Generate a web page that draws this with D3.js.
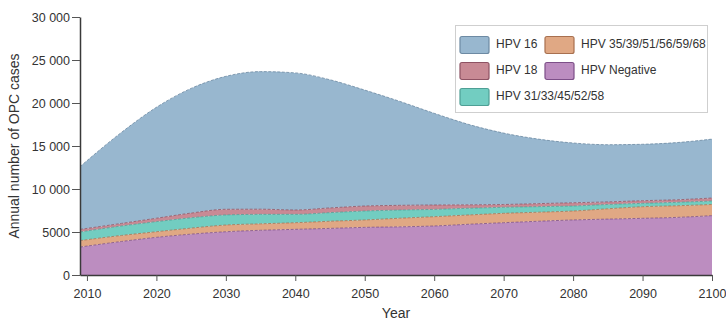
<!DOCTYPE html>
<html>
<head>
<meta charset="utf-8">
<script src="https://cdn.jsdelivr.net/npm/d3@7/dist/d3.min.js"></script>
<style>
  html, body { margin: 0; padding: 0; background: #fff; }
  svg { display: block; font-family: "Liberation Sans", Arial, sans-serif; }
</style>
</head>
<body>
<svg id="chart" width="726" height="323"></svg>
<script>
// Projected annual OPC cases by HPV type (stacked, bottom to top)
const years = [2009, 2015, 2020, 2025, 2030, 2035, 2040, 2045, 2050, 2055,
               2060, 2065, 2070, 2075, 2080, 2085, 2090, 2095, 2100];

const hpvNegative = [3250, 3900, 4380, 4750, 5030, 5200, 5310, 5420, 5540, 5600,
                     5700, 5900, 6080, 6250, 6400, 6500, 6590, 6700, 6900];
const hpv35group  = [750, 700, 650, 700, 780, 750, 770, 830, 860, 1000,
                     1080, 1080, 1090, 1050, 1040, 1200, 1350, 1350, 1300];
const hpv31group  = [1000, 1100, 1170, 1200, 1170, 1100, 970, 1000, 1040, 950,
                     850, 780, 700, 650, 580, 500, 390, 400, 400];
const hpv18       = [300, 300, 400, 550, 660, 600, 510, 550, 580, 550,
                     510, 400, 330, 350, 380, 300, 310, 300, 350];
const hpv16       = [7300, 10600, 12900, 14500, 15460, 16000, 15940, 14900, 13480, 12100,
                     10660, 9340, 8300, 7500, 6950, 6650, 6560, 6650, 6850];

const seriesKeys   = ["neg", "h35", "h31", "h18", "h16"];
const seriesLabels = {
  h16: "HPV 16",
  h18: "HPV 18",
  h31: "HPV 31/33/45/52/58",
  h35: "HPV 35/39/51/56/59/68",
  neg: "HPV Negative"
};
const fills   = { h16: "#98b7cf", h18: "#c88a95", h31: "#72cdc1", h35: "#e0a884", neg: "#bc8dc0" };
const strokes = { h16: "#6d8aa3", h18: "#8e5263", h31: "#4e9f95", h35: "#a8704f", neg: "#7d4f88" };

const legendOrder = ["h16", "h18", "h31", "h35", "neg"];

const yTicks = [0, 5000, 10000, 15000, 20000, 25000, 30000];
const xTicks = [2010, 2020, 2030, 2040, 2050, 2060, 2070, 2080, 2090, 2100];

const rows = years.map((yr, i) => ({
  year: yr,
  neg: hpvNegative[i],
  h35: hpv35group[i],
  h31: hpv31group[i],
  h18: hpv18[i],
  h16: hpv16[i]
}));

const svg = d3.select("#chart");
const margin = { top: 17, right: 14, bottom: 48, left: 80 };
const W = 726, H = 323;

const x = d3.scaleLinear().domain([2009, 2100]).range([margin.left, W - margin.right]);
const y = d3.scaleLinear().domain([0, 30000]).range([H - margin.bottom, margin.top]);

const stacked = d3.stack().keys(seriesKeys)(rows);

const area = d3.area()
  .curve(d3.curveMonotoneX)
  .x(d => x(d.data.year))
  .y0(d => y(d[0]))
  .y1(d => y(d[1]));

const topLine = d3.line()
  .curve(d3.curveMonotoneX)
  .x(d => x(d.data.year))
  .y(d => y(d[1]));

const layers = svg.append("g");
layers.selectAll("path.area")
  .data(stacked)
  .join("path")
  .attr("class", "area")
  .attr("fill", s => fills[s.key])
  .attr("d", area);

layers.selectAll("path.edge")
  .data(stacked)
  .join("path")
  .attr("class", "edge")
  .attr("fill", "none")
  .attr("stroke", s => strokes[s.key])
  .attr("stroke-width", 1)
  .attr("stroke-dasharray", "3,1.5")
  .attr("opacity", 0.8)
  .attr("d", topLine);

// Axes
const fmt = v => v >= 10000 ? d3.format(",")(v).replace(",", " ") : String(v);

const yAxis = svg.append("g")
  .attr("transform", `translate(${margin.left},0)`)
  .call(d3.axisLeft(y).tickValues(yTicks).tickFormat(fmt).tickSize(8).tickSizeOuter(0).tickPadding(2));

const xAxis = svg.append("g")
  .attr("transform", `translate(0,${H - margin.bottom})`)
  .call(d3.axisBottom(x).tickValues(xTicks).tickFormat(d3.format("d")).tickSize(6).tickSizeOuter(0).tickPadding(8));

[yAxis, xAxis].forEach(g => {
  g.select(".domain").attr("stroke", "#3a3a3a").attr("stroke-width", 1.5);
  g.selectAll(".tick line").attr("stroke", "#555").attr("stroke-width", 1);
  g.selectAll(".tick text")
    .attr("fill", "#333")
    .style("font-size", "12.5px")
    .style("font-family", "'Liberation Sans', Arial, sans-serif");
});

svg.append("text")
  .attr("transform", `translate(15,${(margin.top + H - margin.bottom) / 2}) rotate(-90)`)
  .attr("text-anchor", "middle")
  .attr("dominant-baseline", "middle")
  .attr("fill", "#333")
  .style("font-size", "14px")
  .text("Annual number of OPC cases");

svg.append("text")
  .attr("x", (margin.left + W - margin.right) / 2)
  .attr("y", 318)
  .attr("text-anchor", "middle")
  .attr("fill", "#333")
  .style("font-size", "14px")
  .text("Year");

// Legend
const legend = svg.append("g");
legend.append("rect")
  .attr("x", 455.5).attr("y", 25.5)
  .attr("width", 252).attr("height", 87)
  .attr("fill", "#fff")
  .attr("stroke", "#cfcfcf");

const colX = [460, 545];
const rowY = [45, 71, 97];
legendOrder.forEach((k, i) => {
  const c = Math.floor(i / 3), r = i % 3;
  const g = legend.append("g").attr("transform", `translate(${colX[c]},${rowY[r]})`);
  g.append("rect")
    .attr("x", 0).attr("y", -8.5)
    .attr("width", 29).attr("height", 17)
    .attr("rx", 2)
    .attr("fill", fills[k])
    .attr("stroke", strokes[k])
    .attr("stroke-width", 1.2);
  g.append("text")
    .attr("x", 36).attr("y", 0)
    .attr("dominant-baseline", "middle")
    .attr("fill", "#333")
    .style("font-size", "12px")
    .text(seriesLabels[k]);
});
</script>
</body>
</html>
